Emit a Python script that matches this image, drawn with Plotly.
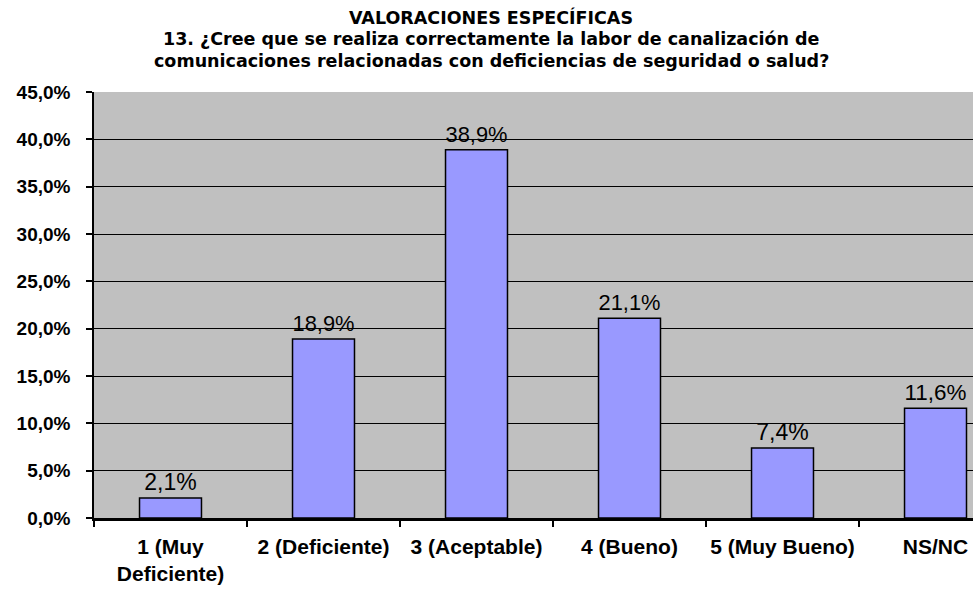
import plotly.graph_objects as go

categories = ["1 (Muy<br>Deficiente)", "2 (Deficiente)", "3 (Aceptable)", "4 (Bueno)", "5 (Muy Bueno)", "NS/NC"]
values = [2.1, 18.9, 38.9, 21.1, 7.4, 11.6]
value_labels = ["2,1%", "18,9%", "38,9%", "21,1%", "7,4%", "11,6%"]
y_ticks = [0, 5, 10, 15, 20, 25, 30, 35, 40, 45]
y_tick_labels = ["0,0%", "5,0%", "10,0%", "15,0%", "20,0%", "25,0%", "30,0%", "35,0%", "40,0%", "45,0%"]
title_lines = [
    "VALORACIONES ESPECÍFICAS",
    "13. ¿Cree que se realiza correctamente la labor de canalización de",
    "comunicaciones relacionadas con deficiencias de seguridad o salud?",
]

FONT = "Liberation Sans, Arial, sans-serif"
TITLE_FONT = "DejaVu Sans, Liberation Sans, sans-serif"

W, H = 973, 590
ML, MT, MB, MR = 94, 92, 72, 0
PW, PH = W - ML - MR, H - MT - MB

fig = go.Figure()
fig.add_trace(go.Bar(
    x=categories,
    y=values,
    text=value_labels,
    textposition="outside",
    textfont=dict(family=FONT, size=23, color="black"),
    marker=dict(color="#9999FF", line=dict(color="black", width=1.5)),
    width=0.405,
    cliponaxis=False,
))

title_y = [17, 39, 61]
for line, yy in zip(title_lines, title_y):
    fig.add_annotation(
        text="<b>" + line + "</b>",
        xref="paper", yref="paper",
        x=(491 - ML) / PW, y=1 + (MT - yy) / PH,
        xanchor="center", yanchor="middle", showarrow=False,
        font=dict(family=TITLE_FONT, size=17.5, color="black"),
    )

fig.update_layout(
    width=W, height=H,
    paper_bgcolor="white",
    plot_bgcolor="#C0C0C0",
    margin=dict(l=ML, r=MR, t=MT, b=MB),
    showlegend=False,
    xaxis=dict(
        type="category",
        range=[-0.5, 5.245],
        tickson="boundaries",
        ticks="outside", ticklen=6, tickwidth=2, tickcolor="black",
        showline=True, linecolor="black", linewidth=2.5,
        showgrid=False,
        automargin=False,
        tickangle=0,
        ticklabelstandoff=8,
        tickfont=dict(family=FONT, size=21, color="black", weight="bold"),
    ),
    yaxis=dict(
        range=[0, 45],
        tickvals=y_ticks,
        ticktext=y_tick_labels,
        ticks="outside", ticklen=6, tickwidth=2, tickcolor="black",
        showline=True, linecolor="black", linewidth=1.5,
        showgrid=True, gridcolor="black", gridwidth=1,
        zeroline=False,
        automargin=False,
        ticklabelstandoff=12,
        tickfont=dict(family=FONT, size=19, color="black", weight="bold"),
    ),
)

fig.write_html(
    "out.html",
    config={"displayModeBar": False},
    post_script="document.body.style.margin='0';document.body.style.overflow='hidden';",
)
